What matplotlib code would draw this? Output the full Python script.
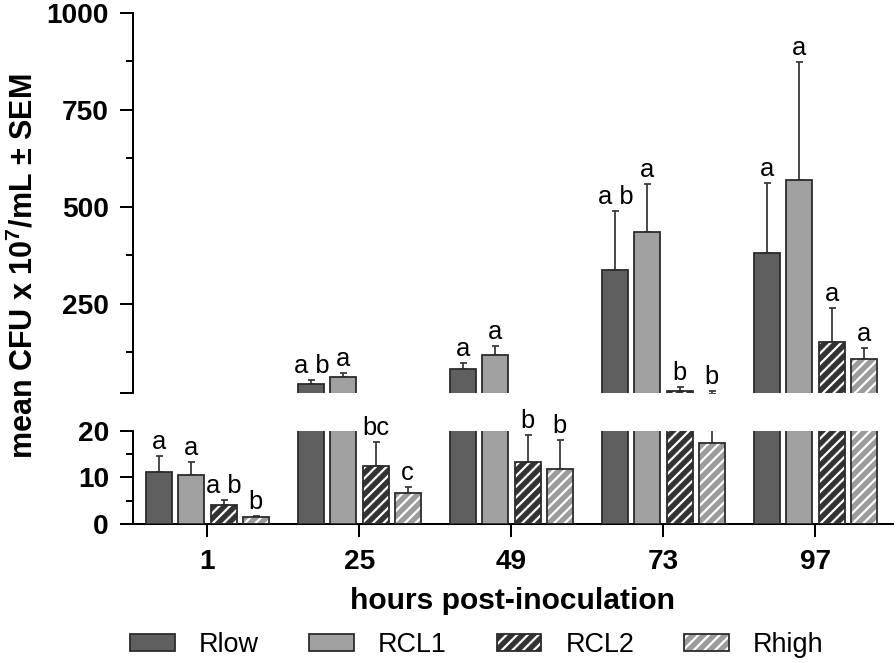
import numpy as np
import matplotlib
matplotlib.use('Agg')
import matplotlib.pyplot as plt
from matplotlib.patches import Patch

W, H, DPI = 896, 663, 64


def px(p):
    # pixel size -> points at the output dpi
    return p * 72 / DPI


plt.rcParams['font.family'] = ['Liberation Sans', 'DejaVu Sans']
plt.rcParams['mathtext.fontset'] = 'custom'
plt.rcParams['mathtext.bf'] = 'Liberation Sans:bold'
plt.rcParams['mathtext.rm'] = 'Liberation Sans:bold'
plt.rcParams['hatch.linewidth'] = px(2.2)

# data
hours = ['1', '25', '49', '73', '97']
groups = ['Rlow', 'RCL1', 'RCL2', 'Rhigh']
means = {
    'Rlow':  [11.2, 41.5, 80, 337.5, 380.5],
    'RCL1':  [10.4, 60.2, 116, 435, 569],
    'RCL2':  [4.0, 12.5, 13.3, 24.5, 150],
    'Rhigh': [1.5, 6.6, 11.8, 17.3, 108],
}
sem = {
    'Rlow':  [3.4, 11.1, 17.3, 150, 180],
    'RCL1':  [2.9, 11.4, 25, 123, 304],
    'RCL2':  [1.1, 5.1, 5.7, 11, 88],
    'Rhigh': [0.2, 1.3, 6.3, 6.5, 26],
}
letters = {
    'Rlow':  ['a', 'a b', 'a', 'a b', 'a'],
    'RCL1':  ['a', 'a', 'a', 'a', 'a'],
    'RCL2':  ['a b', 'bc', 'b', 'b', 'a'],
    'Rhigh': ['b', 'c', 'b', 'b', 'a'],
}
face = {'Rlow': '#5f5f5f', 'RCL1': '#a0a0a0', 'RCL2': '#333333', 'Rhigh': '#9c9c9c'}
hatched = {'Rlow': False, 'RCL1': False, 'RCL2': True, 'Rhigh': True}
edge = '#2b2b2b'
brk = 20

fig = plt.figure(figsize=(W / DPI, H / DPI), dpi=DPI)
left, right = 133 / W, 893 / W
ax_top = fig.add_axes([left, (H - 392.7) / H, right - left, (392.7 - 12.7) / H])
ax_bot = fig.add_axes([left, (H - 524) / H, right - left, (524 - 430.7) / H])

x = np.arange(len(hours))
pitch, width = 0.211, 0.171
lw = px(2)

for ax in (ax_top, ax_bot):
    for j, g in enumerate(groups):
        xs = x + (j - 1.5) * pitch
        v = np.array(means[g])
        e = np.array(sem[g])
        if ax is ax_top:
            # only what reaches above the break shows in the upper panel
            keep = v + e > brk
            xs, v, e = xs[keep], v[keep], e[keep]
        if hatched[g]:
            ax.bar(xs, v, width, color=face[g], edgecolor='white', hatch='//', linewidth=0, zorder=2)
            ax.bar(xs, v, width, fill=False, edgecolor=edge, linewidth=px(1.8), zorder=3)
        else:
            ax.bar(xs, v, width, color=face[g], edgecolor=edge, linewidth=px(1.8), zorder=3)
        ax.errorbar(xs, v, yerr=[np.zeros_like(e), e], fmt='none', ecolor='#3a3a3a',
                    elinewidth=px(1.8), capsize=px(3.5), capthick=px(1.8), zorder=1)
    ax.set_xlim(-0.49, 4.51)
    ax.spines['top'].set_visible(False)
    ax.spines['right'].set_visible(False)
    ax.spines['left'].set_linewidth(lw)
    ax.spines['bottom'].set_linewidth(lw)

# letters
for j, g in enumerate(groups):
    xs = x + (j - 1.5) * pitch
    for i in range(len(hours)):
        top = means[g][i] + sem[g][i]
        ax = ax_top if top > brk else ax_bot
        ax.annotate(letters[g][i], (xs[i], top), xytext=(0, px(7)), textcoords='offset points',
                    ha='center', va='baseline', fontsize=px(25.5))

ax_top.set_ylim(brk, 1000)
ax_top.spines['bottom'].set_visible(False)
ax_top.set_xticks([])
ax_top.set_yticks([20, 250, 500, 750, 1000])
ax_top.set_yticklabels(['', '250', '500', '750', '1000'])
ax_top.set_yticks([125, 375, 625, 875], minor=True)

ax_bot.set_ylim(0, brk)
ax_bot.set_yticks([0, 10, 20])
ax_bot.set_yticks([5, 15], minor=True)
ax_bot.set_xticks(x)
ax_bot.set_xticklabels(hours)

for ax in (ax_top, ax_bot):
    ax.tick_params(axis='y', which='major', length=px(13), width=lw, pad=px(11), labelsize=px(28))
    ax.tick_params(axis='y', which='minor', length=px(7), width=lw)
    for lab in ax.get_yticklabels():
        lab.set_fontweight('bold')
ax_bot.tick_params(axis='x', length=px(13), width=lw, pad=px(12), labelsize=px(28))
for lab in ax_bot.get_xticklabels():
    lab.set_fontweight('bold')

ax_bot.set_xlabel('hours post-inoculation', fontsize=px(30), fontweight='bold', labelpad=px(12))
fig.text(24 / W, (H - 266) / H, r'mean CFU x 10$^\mathbf{7}$/mL ± SEM', rotation=90,
         ha='center', va='center', fontsize=px(30.5), fontweight='bold')

handles = []
for g in groups:
    if hatched[g]:
        handles.append((Patch(facecolor=face[g], edgecolor='white', hatch='//', linewidth=0),
                        Patch(fill=False, edgecolor=edge, linewidth=px(1.8))))
    else:
        handles.append(Patch(facecolor=face[g], edgecolor=edge, linewidth=px(1.8)))
fig.legend(handles, groups, loc='center', bbox_to_anchor=(477 / W, 18 / H), ncol=4,
           frameon=False, fontsize=px(27), handlelength=1.65, handleheight=0.6,
           handletextpad=0.9, columnspacing=1.85)

fig.savefig('out.png', dpi=DPI)
